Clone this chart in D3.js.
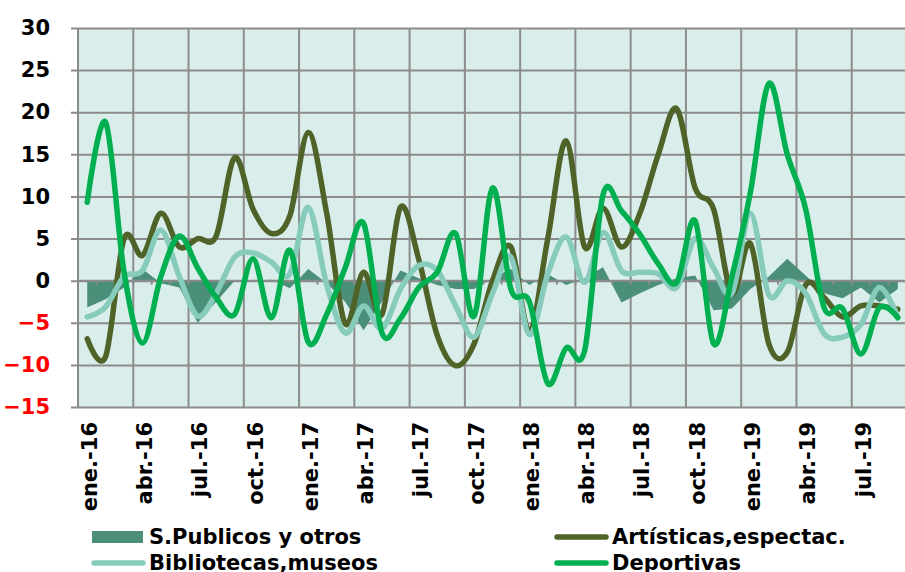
<!DOCTYPE html>
<html>
<head>
<meta charset="utf-8">
<script src="https://cdn.jsdelivr.net/npm/d3@7"></script>
<style>
  body { margin: 0; background: #fff; }
  svg text { font-family: "DejaVu Sans", Verdana, sans-serif; font-weight: bold; }
</style>
</head>
<body>
<div id="container"></div>
<script>
const months = ["ene.-16","feb.-16","mar.-16","abr.-16","may.-16","jun.-16","jul.-16","ago.-16","sep.-16","oct.-16","nov.-16","dic.-16",
  "ene.-17","feb.-17","mar.-17","abr.-17","may.-17","jun.-17","jul.-17","ago.-17","sep.-17","oct.-17","nov.-17","dic.-17",
  "ene.-18","feb.-18","mar.-18","abr.-18","may.-18","jun.-18","jul.-18","ago.-18","sep.-18","oct.-18","nov.-18","dic.-18",
  "ene.-19","feb.-19","mar.-19","abr.-19","may.-19","jun.-19","jul.-19","ago.-19","sep.-19"];

const sPublicos = [-3.2,-2.2,-0.8,1.4,-0.3,-0.8,-5,-2.5,0,0,0.1,-0.9,
  1.4,-0.3,-2.5,-5.9,-2.5,1.2,0.3,-0.5,-1,-1,0.3,1.4,
  -0.5,0.8,-0.5,0.3,1.6,-2.6,-1.5,-0.5,0.3,0.6,-3.5,-3.3,
  -1,0.5,2.6,0.6,-1.5,-2.1,-0.8,-2.6,-1];

const artisticas = [-6.9,-9,5,3,8,4,5,5.3,14.6,8.5,5.6,7.7,
  17.6,8,-5.1,1,-4,8.7,2.5,-6.5,-10.1,-7.5,0,4,
  -6,5,16.6,4,8.6,4,8,15,20.4,11,8.5,-1.5,
  4.4,-7.5,-8.5,-0.5,-2,-4.3,-3,-3,-3.4];

const bibliotecas = [-4.3,-3.1,0.5,1.2,6,0.5,-4.2,-1.5,2.8,3.3,2.2,0.8,
  8.7,-0.5,-6.2,-3,-5.7,-1,1.8,1.2,-3,-6.7,-1.5,2.8,
  -6.4,0.8,5.2,-0.2,5.7,1.2,1,0.8,-0.8,5,1.5,-1.5,
  8,-1.7,0,-1.5,-6.3,-6.7,-5.2,-0.8,-4.3];

const deportivas = [9.3,18.8,1,-7.4,0.5,5.3,1.5,-2,-4,2.6,-4.4,3.6,
  -7.3,-4,1.5,6.8,-6.2,-4.5,-0.8,1,5.6,-4.2,11,-1,
  -2.5,-12.2,-8,-8.3,10.2,8.3,5.5,2,-0.2,7.1,-7.5,0.5,
  10.5,23.4,15,8.5,-3.2,-3.3,-8.7,-3.2,-4.4];

const yTicks = [-15,-10,-5,0,5,10,15,20,25,30];

const width = 905;
const height = 572;
const plotLeft = 78, plotRight = 907, plotTop = 28, plotBottom = 407;

const svg = d3.select("div#container").append("svg")
    .attr("width", width)
    .attr("height", height);

const xScale = d3.scaleBand().domain(d3.range(months.length)).range([plotLeft, plotRight]).padding(0);
const yScale = d3.scaleLinear().domain([-15, 30]).range([plotBottom, plotTop]);
const xMid = i => xScale(i) + xScale.bandwidth() / 2;

// plot background
svg.append("rect")
    .attr("x", plotLeft).attr("y", plotTop)
    .attr("width", plotRight - plotLeft).attr("height", plotBottom - plotTop)
    .attr("fill", "#d9eeea");

// horizontal grid + y axis
const yaxis = d3.axisLeft(yScale)
    .tickValues(yTicks)
    .tickSize(7)
    .tickFormat(d3.format("d"));

const gy = svg.append("g")
    .attr("transform", "translate(" + plotLeft + ",0)")
    .call(yaxis);
gy.select(".domain").remove();
gy.selectAll(".tick line").attr("stroke", "#8c8c8c").attr("stroke-width", 2)
    .attr("x1", -7).attr("x2", plotRight - plotLeft);
gy.selectAll(".tick text")
    .attr("x", -28)
    .style("font-size", "21px")
    .attr("fill", d => d < 0 ? "#ff0000" : "#000");

// vertical grid every 3 months
const vlines = d3.range(0, months.length + 1, 3);
svg.append("g").selectAll("line")
    .data(vlines)
    .join("line")
    .attr("x1", d => d < months.length ? xScale(d) : plotRight)
    .attr("x2", d => d < months.length ? xScale(d) : plotRight)
    .attr("y1", plotTop).attr("y2", plotBottom)
    .attr("stroke", "#8c8c8c").attr("stroke-width", 2);

// area series
const area = d3.area()
    .x((d, i) => xMid(i))
    .y0(yScale(0))
    .y1(d => yScale(d));

svg.append("path")
    .attr("d", area(sPublicos))
    .attr("fill", "#4b8f7b");

// category axis at zero
const gx = svg.append("g");
gx.append("line")
    .attr("x1", plotLeft).attr("x2", plotRight)
    .attr("y1", yScale(0)).attr("y2", yScale(0))
    .attr("stroke", "#8c8c8c").attr("stroke-width", 2);
gx.selectAll(".mtick")
    .data(d3.range(1, months.length))
    .join("line")
    .attr("class", "mtick")
    .attr("x1", d => xScale(d)).attr("x2", d => xScale(d))
    .attr("y1", yScale(0)).attr("y2", yScale(0) + 4)
    .attr("stroke", "#8c8c8c").attr("stroke-width", 2);

// x labels at the bottom
svg.append("g").selectAll("text")
    .data(d3.range(0, months.length, 3))
    .join("text")
    .attr("transform", d => "translate(" + (xMid(d) + 2) + "," + (plotBottom + 15) + ") rotate(-90)")
    .attr("dy", "0.36em")
    .style("text-anchor", "end")
    .style("font-size", "21px")
    .text(d => months[d]);

// smoothed lines
const line = d3.line()
    .x((d, i) => xMid(i))
    .y(d => yScale(d))
    .curve(d3.curveCardinal.tension(0));

const series = [
  { name: "Artísticas,espectac.", values: artisticas, color: "#4f6228" },
  { name: "Bibliotecas,museos", values: bibliotecas, color: "#86cbbb" },
  { name: "Deportivas", values: deportivas, color: "#00b050" }
];

series.forEach(s => {
  svg.append("path")
      .attr("d", line(s.values))
      .attr("fill", "none")
      .attr("stroke", s.color)
      .attr("stroke-width", 5.5)
      .attr("stroke-linejoin", "round")
      .attr("stroke-linecap", "round");
});

// legend
const legend = svg.append("g");
const addLegend = function(x, y, label, color, isArea){
  if (isArea) {
    legend.append("rect").attr("x", x).attr("y", y - 6).attr("width", 51).attr("height", 12).attr("fill", color);
  } else {
    legend.append("line").attr("x1", x + 2).attr("x2", x + 51).attr("y1", y).attr("y2", y)
        .attr("stroke", color).attr("stroke-width", 5.5).attr("stroke-linecap", "round");
  }
  legend.append("text").attr("x", x + 57).attr("y", y + 7)
      .style("font-size", "21px")
      .text(label);
};
addLegend(92, 537, "S.Publicos y otros", "#4b8f7b", true);
addLegend(555, 537, "Artísticas,espectac.", "#4f6228", false);
addLegend(92, 563, "Bibliotecas,museos", "#86cbbb", false);
addLegend(555, 563, "Deportivas", "#00b050", false);
</script>
</body>
</html>
